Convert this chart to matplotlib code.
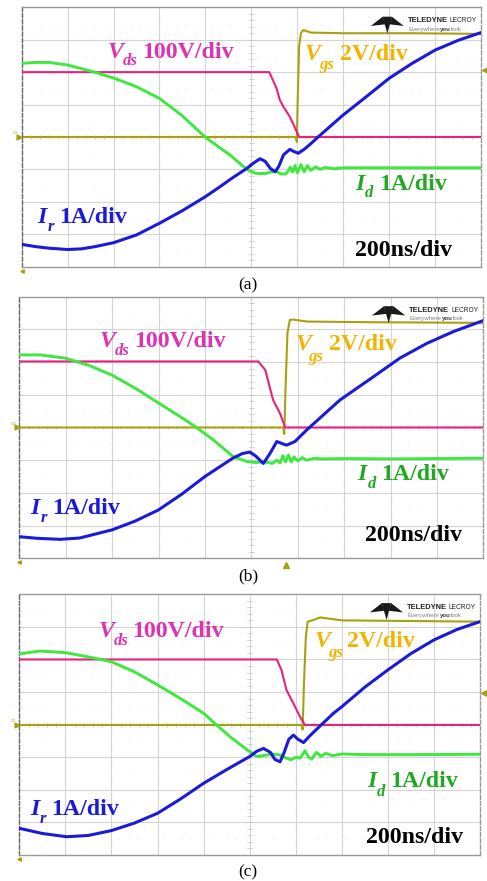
import numpy as np
import matplotlib
matplotlib.use("Agg")
import matplotlib.pyplot as plt
from matplotlib.patches import Polygon

# ---------------------------------------------------------------
# Scope traces, in screen divisions (time: 0..10 div, amplitude: 0..8 div)
# ---------------------------------------------------------------

# (a)
t_vds_a = [0, 5.39, 5.47, 5.55, 5.62, 5.70, 5.84, 5.99, 6.04, 10]
vds_a = [6.0, 6.0, 5.75, 5.5, 5.14, 4.93, 4.62, 4.16, 4.0, 4.0]
t_vgs_a = [0, 5.97, 5.99, 6.01, 6.04, 6.08, 6.13, 6.3, 7.0, 8.5, 10]
vgs_a = [4.0, 4.0, 3.85, 5.2, 6.8, 7.2, 7.3, 7.22, 7.2, 7.2, 7.18]
t_id_a = [0, 0.3, 0.6, 1.0, 1.56, 2.0, 2.5, 3.0, 3.5, 4.0, 4.54, 4.8, 4.97, 5.1,
          5.3, 5.45, 5.55, 5.65, 5.75, 5.8, 5.85, 5.9, 5.95, 6.0, 6.08, 6.15,
          6.22, 6.3, 6.4, 6.5, 6.6, 6.8, 7.0, 8.0, 9.0, 10]
id_a = [6.27, 6.3, 6.3, 6.22, 6.01, 5.82, 5.55, 5.19, 4.65, 3.99, 3.44, 3.12, 2.95, 2.88,
        2.87, 2.93, 2.93, 2.86, 2.86, 2.95, 3.07, 2.92, 3.12, 2.9, 3.15, 2.93,
        3.12, 2.97, 3.08, 3.0, 3.06, 3.02, 3.05, 3.05, 3.05, 3.05]
t_ir_a = [0, 0.3, 0.6, 1.0, 1.3, 1.6, 2.0, 2.5, 3.0, 3.5, 4.0, 4.3, 4.6, 4.9, 5.05,
          5.19, 5.3, 5.42, 5.52, 5.6, 5.7, 5.84, 5.93, 6.02, 6.15, 6.3, 6.46,
          7.0, 7.5, 8.0, 8.5, 9.0, 9.5, 10]
ir_a = [0.69, 0.62, 0.57, 0.53, 0.55, 0.62, 0.74, 0.98, 1.34, 1.73, 2.16, 2.45, 2.75, 3.03, 3.2,
        3.33, 3.25, 3.02, 2.93, 3.1, 3.45, 3.62, 3.55, 3.5, 3.62, 3.8, 4.01,
        4.68, 5.24, 5.81, 6.27, 6.68, 6.98, 7.22]

# (b)
t_vds_b = [0, 5.15, 5.3, 5.47, 5.62, 5.73, 10]
vds_b = [6.02, 6.02, 5.76, 4.84, 4.43, 4.0, 4.0]
t_vgs_b = [0, 5.69, 5.71, 5.74, 5.78, 5.83, 5.9, 6.2, 7.5, 10]
vgs_b = [4.0, 4.0, 3.8, 5.3, 6.9, 7.29, 7.3, 7.24, 7.22, 7.2]
t_id_b = [0, 0.45, 1.0, 1.24, 1.5, 2.0, 2.5, 3.0, 3.5, 3.82, 4.2, 4.6, 4.9, 5.1,
          5.3, 5.45, 5.55, 5.62, 5.68, 5.74, 5.8, 5.86, 5.92, 6.0, 6.1, 6.2,
          6.35, 6.5, 7.0, 8.0, 10]
id_b = [6.22, 6.22, 6.12, 6.01, 5.9, 5.6, 5.2, 4.75, 4.3, 4.0, 3.6, 3.12, 2.96, 2.93,
        2.95, 2.9, 3.0, 2.92, 3.14, 2.95, 3.16, 2.95, 3.1, 2.98, 3.08, 3.0,
        3.06, 3.04, 3.05, 3.04, 3.06]
t_ir_b = [0, 0.4, 0.88, 1.3, 2.0, 2.5, 3.0, 3.5, 4.0, 4.6, 4.8, 4.97, 5.1, 5.26,
          5.4, 5.55, 5.68, 5.76, 5.94, 6.19, 6.91, 7.63, 8.2, 8.78, 9.35, 10]
ir_b = [0.66, 0.61, 0.58, 0.62, 0.87, 1.14, 1.48, 1.96, 2.5, 3.06, 3.2, 3.25, 3.12, 2.9,
        3.2, 3.57, 3.5, 3.46, 3.57, 3.92, 4.84, 5.55, 6.12, 6.57, 6.93, 7.27]

# (c)
t_vds_c = [0, 5.59, 5.69, 5.8, 5.95, 6.09, 6.2, 10]
vds_c = [6.0, 6.0, 5.68, 5.06, 4.65, 4.25, 3.99, 3.99]
t_vgs_c = [0, 6.13, 6.15, 6.18, 6.22, 6.26, 6.4, 6.53, 7.0, 10]
vgs_c = [3.99, 3.99, 3.85, 5.3, 6.7, 7.16, 7.22, 7.29, 7.2, 7.16]
t_id_c = [0, 0.45, 1.0, 1.6, 2.0, 2.5, 3.0, 3.5, 4.0, 4.28, 4.6, 5.0, 5.15, 5.3,
          5.5, 5.66, 5.8, 5.9, 6.0, 6.1, 6.2, 6.28, 6.35, 6.45, 6.55, 6.65,
          6.8, 7.0, 7.5, 8.5, 10]
id_c = [6.17, 6.26, 6.21, 6.05, 5.93, 5.62, 5.22, 4.8, 4.35, 3.99, 3.6, 3.17, 3.02, 3.05,
        3.1, 3.07, 2.97, 2.92, 3.0, 2.98, 3.2, 3.0, 2.95, 3.15, 3.03, 3.12,
        3.05, 3.1, 3.08, 3.08, 3.09]
t_ir_c = [0, 0.5, 1.03, 1.5, 2.0, 2.5, 3.0, 3.5, 4.0, 4.5, 5.0, 5.15, 5.3, 5.45,
          5.55, 5.66, 5.75, 5.85, 5.95, 6.05, 6.17, 6.3, 6.5, 6.82, 7.0, 7.5,
          8.0, 8.5, 9.0, 9.5, 10]
ir_c = [0.82, 0.66, 0.56, 0.6, 0.75, 0.98, 1.28, 1.72, 2.2, 2.62, 3.02, 3.18, 3.27, 3.15,
        2.93, 2.86, 3.15, 3.55, 3.68, 3.55, 3.45, 3.65, 3.92, 4.35, 4.55, 5.15,
        5.68, 6.18, 6.6, 6.92, 7.16]

# Panel captions and channel scale labels
captions = ["(a)", "(b)", "(c)"]
vds_scale = "100V/div"
vgs_scale = "2V/div"
id_scale = "1A/div"
ir_scale = "1A/div"
time_scale = "200ns/div"

# ---------------------------------------------------------------
C_VDS = "#e8207f"
C_VDS_TXT = "#dd33b0"
C_VGS = "#a8a010"
C_VGS_TXT = "#f2b400"
C_ID = "#3ee83e"
C_ID_TXT = "#22a822"
C_IR = "#1a1ad8"
GRID = "#d4d4d4"

SERIF = ["Liberation Serif", "DejaVu Serif"]
FS = 17.2
FS_SUB = 12

fig = plt.figure(figsize=(4.87, 8.81), dpi=100)
W, H = 487.0, 881.0

# axes boxes in pixels: left, top, right, bottom
boxes = [(21.7, 7.3, 481.0, 266.7),
         (19.3, 296.7, 483.3, 558.3),
         (19.3, 594.3, 480.0, 855.0)]
caption_y = [285, 576, 872]

# label anchor positions (div units)
label_pos = [
    dict(vds=(1.88, 6.45), vds_sub=(2.2, 6.22), vds_txt=2.63,
         vgs=(6.15, 6.37), vgs_sub=(6.48, 6.1), vgs_txt=6.92,
         idl=(7.27, 2.38), id_sub=(7.47, 2.14), id_txt=7.78,
         irl=(0.33, 1.36), ir_sub=(0.57, 1.11), ir_txt=0.81,
         ts=(7.26, 0.33), logo=(7.6, 7.19), trig=("right", 6.06)),
    dict(vds=(1.74, 6.47), vds_sub=(2.06, 6.23), vds_txt=2.47,
         vgs=(5.96, 6.37), vgs_sub=(6.23, 6.04), vgs_txt=6.68,
         idl=(7.29, 2.4), id_sub=(7.5, 2.15), id_txt=7.79,
         irl=(0.24, 1.36), ir_sub=(0.47, 1.1), ir_txt=0.71,
         ts=(7.45, 0.54), logo=(7.6, 7.19), trig=("bottom", 5.75)),
    dict(vds=(1.72, 6.7), vds_sub=(2.05, 6.43), vds_txt=2.45,
         vgs=(6.4, 6.39), vgs_sub=(6.71, 6.07), vgs_txt=7.12,
         idl=(7.56, 2.1), id_sub=(7.76, 1.82), id_txt=8.06,
         irl=(0.24, 1.23), ir_sub=(0.45, 0.98), ir_txt=0.7,
         ts=(7.52, 0.36), logo=(7.61, 7.21), trig=("right", 4.96)),
]

traces = [
    (t_vds_a, vds_a, t_vgs_a, vgs_a, t_id_a, id_a, t_ir_a, ir_a),
    (t_vds_b, vds_b, t_vgs_b, vgs_b, t_id_b, id_b, t_ir_b, ir_b),
    (t_vds_c, vds_c, t_vgs_c, vgs_c, t_id_c, id_c, t_ir_c, ir_c),
]


def scope_grid(ax):
    for x in range(1, 10):
        ax.axvline(x, color=GRID, lw=0.8, zorder=0)
    for y in range(1, 8):
        ax.axhline(y, color=GRID, lw=0.8, zorder=0)
    # faint dotted half-division rows
    for y in np.arange(0.5, 8, 1.0):
        ax.axhline(y, color="#e8e8e8", lw=0.7, ls=(0, (0.8, 8.5)), zorder=0)
    # tick marks on the centre axes
    for y in np.arange(0.2, 8, 0.2):
        ax.plot([4.94, 5.06], [y, y], color="#c4c4c4", lw=0.5, zorder=0)
    for x in np.arange(0.2, 10, 0.2):
        ax.plot([x, x], [3.94, 4.06], color="#c4c4c4", lw=0.5, zorder=0)
    ax.set_xlim(0, 10)
    ax.set_ylim(0, 8)
    ax.set_xticks([])
    ax.set_yticks([])
    for s in ax.spines.values():
        s.set_color("#9a9a9a")
        s.set_linewidth(1.0)
    ax.spines["left"].set_linestyle((0, (3, 1.5)))
    ax.spines["left"].set_color("#666666")
    ax.spines["right"].set_linestyle((0, (3, 1.5)))


def logo(ax, x0, y0):
    w, h = 0.72, 0.52
    def P(pts):
        return [(x0 + px * w, y0 + py * h) for px, py in pts]
    for pts in ([(0.0, 0.45), (0.36, 1.0), (0.44, 0.55)],
                [(1.0, 0.45), (0.64, 1.0), (0.56, 0.55)],
                [(0.36, 1.0), (0.64, 1.0), (0.5, 0.0)]):
        ax.add_patch(Polygon(P(pts), closed=True, color="#1a1a1a", lw=0, zorder=5))
    t1 = ax.text(x0 + 0.8, y0 + 0.4, "TELEDYNE", fontsize=5.4, weight="bold",
                 family="Liberation Sans", color="#222222", va="center", zorder=6)
    ax.annotate("LECROY", xy=(1, 0.5), xycoords=t1, xytext=(1.5, 0),
                textcoords="offset points", fontsize=4.8, family="Liberation Sans",
                color="#222222", va="center", zorder=6)
    e1 = ax.text(x0 + 0.82, y0 + 0.13, "Everywhere", fontsize=4.3,
                 family="Liberation Sans", color="#808080", va="center", zorder=6)
    e2 = ax.annotate("you", xy=(1, 0.5), xycoords=e1, fontsize=4.3, weight="bold",
                     family="Liberation Sans", color="#404040", va="center", zorder=6)
    ax.annotate("look", xy=(1, 0.5), xycoords=e2, fontsize=4.3,
                family="Liberation Sans", color="#808080", va="center", zorder=6)


def chan_label(ax, sym, sym_xy, sub, sub_xy, txt, txt_x, color):
    ax.text(*sym_xy, sym, fontsize=FS, family=SERIF, style="italic", weight="bold",
            color=color, va="baseline", zorder=7)
    ax.text(*sub_xy, sub, fontsize=FS_SUB, family=SERIF, style="italic", weight="bold",
            color=color, va="baseline", zorder=7)
    ax.text(txt_x, sym_xy[1], txt, fontsize=FS, family=SERIF, weight="bold",
            color=color, va="baseline", zorder=7)


for i, (box, tr, lp) in enumerate(zip(boxes, traces, label_pos)):
    l, t, r, b = box
    ax = fig.add_axes([l / W, 1 - b / H, (r - l) / W, (b - t) / H])
    scope_grid(ax)
    tvds, vds, tvgs, vgs, tid, idv, tir, irv = tr
    ax.plot(tvgs, vgs, color=C_VGS, lw=1.5, zorder=2)
    ax.plot(tvds, vds, color=C_VDS, lw=1.5, zorder=3)
    ax.plot(tid, idv, color=C_ID, lw=2.1, zorder=3)
    ax.plot(tir, irv, color=C_IR, lw=2.2, zorder=4)

    chan_label(ax, "V", lp["vds"], "ds", lp["vds_sub"], vds_scale, lp["vds_txt"], C_VDS_TXT)
    chan_label(ax, "V", lp["vgs"], "gs", lp["vgs_sub"], vgs_scale, lp["vgs_txt"], C_VGS_TXT)
    chan_label(ax, "I", lp["idl"], "d", lp["id_sub"], id_scale, lp["id_txt"], C_ID_TXT)
    chan_label(ax, "I", lp["irl"], "r", lp["ir_sub"], ir_scale, lp["ir_txt"], C_IR)
    ax.text(*lp["ts"], time_scale, fontsize=FS, family=SERIF, weight="bold",
            color="black", va="baseline", zorder=7)
    logo(ax, *lp["logo"])

    # ground marker of the gate channel and trigger markers
    ax.plot([-0.06], [4.0], marker=">", ms=3.5, color=C_VGS, clip_on=False, zorder=8)
    ax.text(-0.08, 4.05, "C3", fontsize=2.8, color=C_VGS, ha="right", va="bottom",
            clip_on=False)
    ax.plot([0.0], [-0.12], marker="<", ms=2.5, color=C_VGS, clip_on=False, zorder=8)
    side, pos = lp["trig"]
    if side == "right":
        ax.plot([10.08], [pos], marker="<", ms=4, color=C_VGS, clip_on=False, zorder=8)
    else:
        ax.plot([pos], [-0.2], marker="^", ms=4, color=C_VGS, clip_on=False, zorder=8)

    fig.text(248 / W, 1 - caption_y[i] / H, captions[i], fontsize=12.5, family=SERIF,
             ha="center", va="center")

fig.savefig("out.png", dpi=100)
